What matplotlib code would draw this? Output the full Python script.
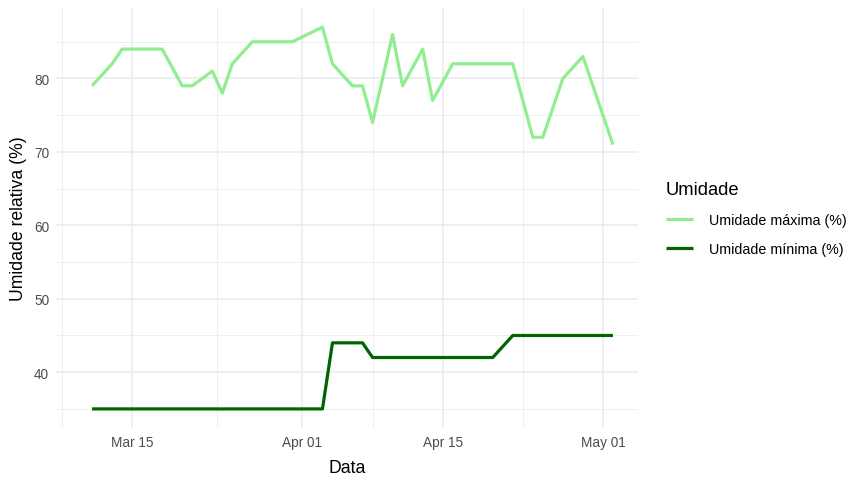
import numpy as np
import matplotlib
matplotlib.use("Agg")
import matplotlib.pyplot as plt
import matplotlib.dates as mdates

plt.rcParams['font.family'] = ['Liberation Sans', 'DejaVu Sans']

# umidade maxima (%)
max_dates = ["2024-03-11", "2024-03-13", "2024-03-14", "2024-03-18", "2024-03-20",
             "2024-03-21", "2024-03-23", "2024-03-24", "2024-03-25", "2024-03-27",
             "2024-03-31", "2024-04-03", "2024-04-04", "2024-04-06", "2024-04-07",
             "2024-04-08", "2024-04-10", "2024-04-11", "2024-04-13", "2024-04-14",
             "2024-04-16", "2024-04-22", "2024-04-24", "2024-04-25", "2024-04-27",
             "2024-04-29", "2024-05-02"]
max_vals = [79, 82, 84, 84, 79, 79, 81, 78, 82, 85, 85, 87, 82, 79, 79,
            74, 86, 79, 84, 77, 82, 82, 72, 72, 80, 83, 71]

# umidade minima (%)
min_dates = ["2024-03-11", "2024-04-03", "2024-04-04", "2024-04-07", "2024-04-08",
             "2024-04-20", "2024-04-22", "2024-05-02"]
min_vals = [35, 35, 44, 44, 42, 42, 45, 45]

tick_dates = ["2024-03-15", "2024-04-01", "2024-04-15", "2024-05-01"]
tick_labels = ["Mar 15", "Apr 01", "Apr 15", "May 01"]
minor_dates = ["2024-03-08", "2024-03-23T12:00", "2024-04-08", "2024-04-23"]

md = np.array(max_dates, dtype="datetime64[D]")
nd = np.array(min_dates, dtype="datetime64[D]")

fig = plt.figure(figsize=(8.61, 4.85), dpi=100)
ax = fig.add_axes([56/861, 56/485, (638-56)/861, (429-9)/485])

l1, = ax.plot(md, max_vals, color="#90EE90", lw=2.3, solid_capstyle="butt", label="Umidade máxima (%)")
l2, = ax.plot(nd, min_vals, color="#006400", lw=2.3, solid_capstyle="butt", label="Umidade mínima (%)")

x_mar15 = mdates.date2num(np.datetime64("2024-03-15"))
ax.set_xlim(x_mar15 - 7.6, x_mar15 + 50.5)
ax.set_ylim(32.4, 89.6)

ax.set_xticks([mdates.date2num(np.datetime64(d)) for d in tick_dates])
ax.set_xticklabels(tick_labels)
ax.set_xticks([mdates.date2num(np.datetime64(d, "m")) for d in minor_dates], minor=True)
ax.set_yticks([40, 50, 60, 70, 80])
ax.set_yticks([35, 45, 55, 65, 75, 85], minor=True)

ax.grid(which="major", color="#EBEBEB", lw=1.1)
ax.grid(which="minor", color="#EBEBEB", lw=0.55)
ax.set_axisbelow(True)
for s in ax.spines.values():
    s.set_visible(False)
ax.tick_params(which="both", length=0, labelsize=9.8, labelcolor="#4D4D4D", pad=5)

ax.set_xlabel("Data", fontsize=12.7, labelpad=7)
ax.set_ylabel("Umidade relativa (%)", fontsize=12.7, labelpad=5)

leg = fig.legend(handles=[l1, l2], title="Umidade", loc="upper left",
                 bbox_to_anchor=(653/861, 1 - 169/485), frameon=False,
                 fontsize=10.3, title_fontsize=13.2, handlelength=1.9,
                 labelspacing=1.05, handletextpad=1.1)
leg._legend_box.align = "left"

fig.savefig("out.png", dpi=100)
